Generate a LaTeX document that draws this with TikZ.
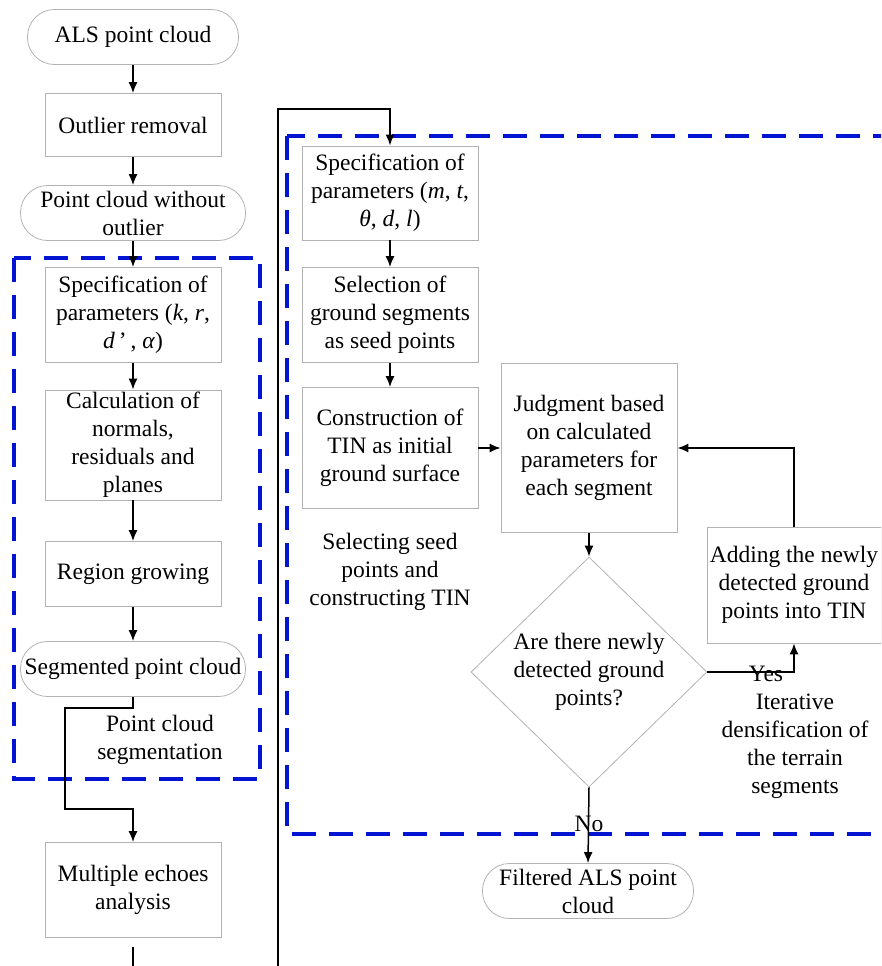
\documentclass[tikz,border=0pt]{standalone}
\usepackage{fontspec}
\setmainfont{Liberation Serif}
\usepackage{tikz}
\usetikzlibrary{arrows.meta,shapes.geometric,calc}

\newcommand{\flowfont}{\fontsize{23.5}{28}\selectfont}
\definecolor{groupblue}{RGB}{0,20,210}

\tikzset{
    procbox/.style={draw=black!30, line width=0.8pt, minimum width=176pt, align=center, inner sep=2pt, font=\flowfont},
    termbox/.style={procbox, rounded corners=27pt, minimum height=55pt},
    askbox/.style={diamond, draw=black!30, line width=0.8pt, align=center, inner sep=0pt, aspect=1.03, minimum width=236pt, minimum height=230pt, font=\flowfont},
    flow/.style={-{Latex[length=11pt,width=9pt]}, line width=1.5pt},
    groupbox/.style={draw=groupblue, line width=3.2pt, dash pattern=on 24pt off 13pt},
    note/.style={align=center, inner sep=0pt, font=\flowfont},
}

\begin{document}
\begin{tikzpicture}[x=1pt, y=-1pt]
    \clip (0,0) rectangle (881,966);
    % left column
    \node[termbox, minimum width=211pt] (als) at (133,37) {ALS point cloud};
    \node[procbox, minimum height=63pt] (outlier) at (133,125) {Outlier removal};
    \node[termbox, minimum width=225pt] (nooutl) at (133,213) {Point cloud without\\outlier};
    \node[procbox, minimum height=95pt] (specL) at (133,315) {Specification of\\parameters (\textit{k}, \textit{r},\\\textit{d}\,’\,, \textit{α})};
    \node[procbox, minimum height=110pt] (calc) at (133,445) {Calculation of\\normals,\\residuals and\\planes};
    \node[procbox, minimum height=65pt] (region) at (133,574) {Region growing};
    \node[termbox, minimum width=225pt] (segm) at (133,669) {Segmented point cloud};
    \node[procbox, minimum height=95pt] (multi) at (133,890) {Multiple echoes\\analysis};
    \node[note] (seglabel) at (160,740) {Point cloud\\segmentation};

    % right part
    \node[procbox, minimum height=94pt] (specR) at (390,193) {Specification of\\parameters (\textit{m}, \textit{t},\\\textit{θ}, \textit{d}, \textit{l})};
    \node[procbox, minimum height=95pt] (select) at (390,315) {Selection of\\ground segments\\as seed points};
    \node[procbox, minimum height=121pt] (constr) at (390,448) {Construction of\\TIN as initial\\ground surface};
    \node[note] (seedlabel) at (390,572) {Selecting seed\\points and\\constructing TIN};
    \node[procbox, minimum height=169pt] (judge) at (589,448) {Judgment based\\on calculated\\parameters for\\each segment};
    \node[askbox] (ask) at (589,672) {Are there newly\\detected ground\\points?};
    \node[procbox, minimum width=174pt, minimum height=116pt] (adding) at (794,585) {Adding the newly\\detected ground\\points into TIN};
    \node[note] (iterlabel) at (795,746) {Iterative\\densification of\\the terrain\\segments};
    \node[termbox, minimum width=211pt] (filtered) at (588,891) {Filtered ALS point\\cloud};

    % dashed groups
    \draw[groupbox] (14,258) rectangle (260,779);
    \draw[groupbox] (287,136) rectangle (930,834);

    \draw[flow] (als) -- (outlier);
    \draw[flow] (outlier) -- (nooutl);
    \draw[flow] (nooutl) -- (specL);
    \draw[flow] (specL) -- (calc);
    \draw[flow] (calc) -- (region);
    \draw[flow] (region) -- (segm);
    \coordinate (bendA) at (65,708);
    \coordinate (bendB) at (65,809);
    \draw[flow] (segm.south) -- (segm.south |- bendA) -- (bendA) -- (bendB) -- (bendB -| multi.north) -- (multi.north);
    \coordinate (tailtop) at (133,947);
    \coordinate (tailbot) at (133,975);
    \draw[line width=1.5pt] (tailtop) -- (tailbot);

    % link from the bottom into the right part
    \coordinate (sepbot) at (278,975);
    \coordinate (septop) at (278,109);
    \draw[flow, line width=1.8pt] (sepbot) -- (septop) -| (specR.north);
    \draw[flow] (specR) -- (select);
    \draw[flow] (select) -- (constr);
    \draw[flow] (constr) -- (judge);
    \draw[flow] (judge) -- (ask);
    \draw[flow] (ask.east) -| (adding.south);
    \draw[flow] (adding.north) |- (judge.east);
    \draw[flow] (ask.south) -- (filtered.north);
    \node[note] (yes) at (766,674) {Yes};
    \node[note] (no) at (589,824) {No};
\end{tikzpicture}
\end{document}
